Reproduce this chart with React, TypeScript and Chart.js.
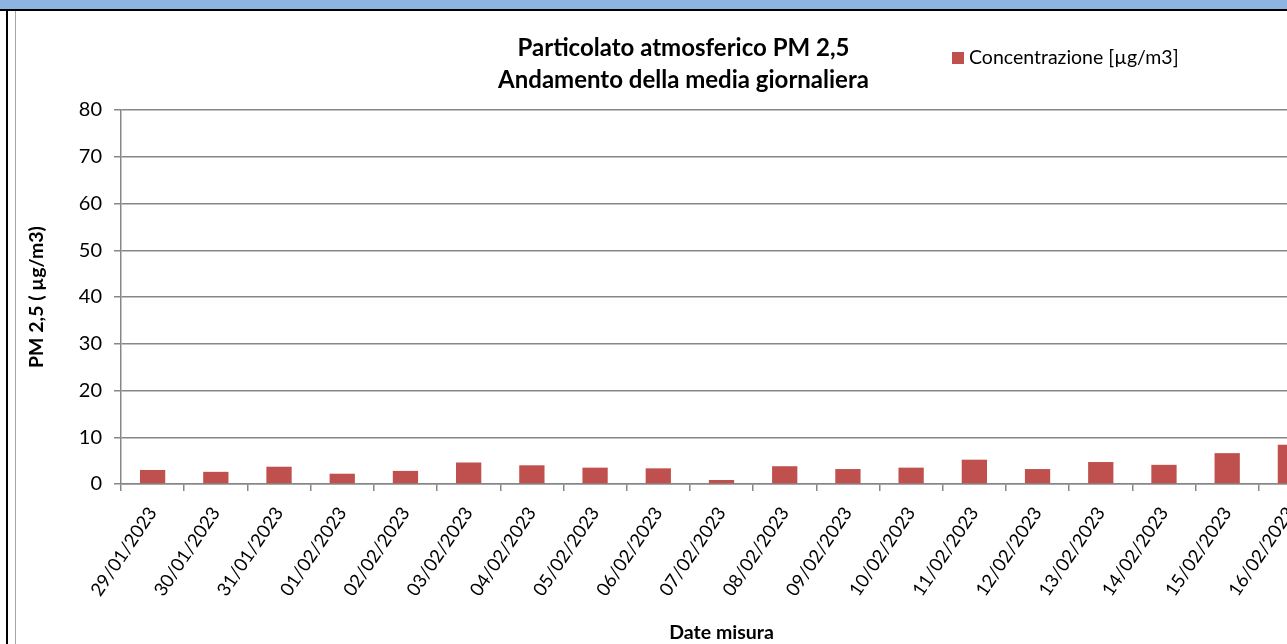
import { useEffect, useRef } from "react";
import { Chart, registerables } from "chart.js";

Chart.register(...registerables);

const categories = [
  "29/01/2023", "30/01/2023", "31/01/2023", "01/02/2023", "02/02/2023",
  "03/02/2023", "04/02/2023", "05/02/2023", "06/02/2023", "07/02/2023",
  "08/02/2023", "09/02/2023", "10/02/2023", "11/02/2023", "12/02/2023",
  "13/02/2023", "14/02/2023", "15/02/2023", "16/02/2023",
];
const concentrazione = [
  3.0, 2.6, 3.7, 2.2, 2.8, 4.6, 4.0, 3.5, 3.35, 0.85,
  3.8, 3.2, 3.5, 5.2, 3.2, 4.7, 4.1, 6.6, 8.4,
];
const seriesLabel = "Concentrazione [µg/m3]";
const titleLines = ["Particolato atmosferico PM 2,5", "Andamento della media giornaliera"];
const yTitle = "PM 2,5 ( µg/m3)";
const xTitle = "Date misura";
const yMin = 0;
const yMax = 80;
const yStep = 10;

const FONT = "Lato";
const GRID = "#878787";
const BAR = "#C0504D";

const overlay = {
  id: "overlay",
  afterDraw(chart: any) {
    const ctx = chart.ctx;
    ctx.save();
    ctx.fillStyle = "#000";
    ctx.font = `bold 24px ${FONT}`;
    ctx.textAlign = "center";
    ctx.textBaseline = "middle";
    titleLines.forEach((t, i) => ctx.fillText(t, 667.5, 37 + i * 32));
    const ds = chart.data.datasets[0];
    ctx.fillStyle = ds.backgroundColor;
    ctx.fillRect(936, 41, 12, 12);
    ctx.fillStyle = "#000";
    ctx.textAlign = "left";
    ctx.font = `19.5px ${FONT}`;
    ctx.fillText(ds.label, 953, 47);
    ctx.restore();
  },
};

export default function App() {
  const ref = useRef<HTMLCanvasElement>(null);
  useEffect(() => {
    if (!ref.current) return;
    const chart = new Chart(ref.current, {
      type: "bar",
      data: {
        labels: categories,
        datasets: [
          {
            label: seriesLabel,
            data: concentrazione,
            backgroundColor: BAR,
            barPercentage: 0.4,
            categoryPercentage: 1,
          },
        ],
      },
      options: {
        responsive: false,
        maintainAspectRatio: false,
        animation: false,
        layout: { padding: { top: 99, right: 24, left: 0, bottom: 0 } },
        plugins: {
          legend: { display: false },
          title: { display: false },
          tooltip: { enabled: false },
        },
        scales: {
          x: {
            offset: true,
            grid: { offset: true, drawOnChartArea: false, color: GRID, lineWidth: 1.5, tickLength: 7 },
            border: { color: GRID, width: 1.5 },
            ticks: {
              autoSkip: false,
              minRotation: 56,
              maxRotation: 56,
              padding: 12,
              color: "#000",
              font: { family: FONT, size: 18.5 },
            },
            title: {
              display: true,
              text: xTitle,
              color: "#000",
              font: { family: FONT, size: 19.5, weight: "bold" },
              padding: { top: 0, bottom: 7 },
            },
            afterFit: (s: any) => {
              s.height = 167;
            },
          },
          y: {
            min: yMin,
            max: yMax,
            ticks: {
              stepSize: yStep,
              padding: 12,
              color: "#000",
              font: { family: FONT, size: 20 },
            },
            grid: { color: GRID, lineWidth: 1.5, tickLength: 7 },
            border: { color: GRID, width: 1.5 },
            title: {
              display: true,
              text: yTitle,
              color: "#000",
              font: { family: FONT, size: 19.5, weight: "bold" },
              padding: { top: 9, bottom: 0 },
            },
            afterFit: (s: any) => {
              s.width = 105;
            },
          },
        },
      },
      plugins: [overlay],
    });
    return () => chart.destroy();
  }, []);

  return (
    <div
      style={{
        position: "fixed",
        left: 0,
        top: 0,
        width: 1287,
        height: 644,
        overflow: "hidden",
        background: "#fff",
      }}
    >
      <div style={{ position: "absolute", left: 0, top: 0, width: "100%", height: 9, background: "#8DB4E2" }} />
      <div style={{ position: "absolute", left: 0, top: 9, width: "100%", height: 2, background: "#000" }} />
      <div style={{ position: "absolute", left: 6, top: 9, width: 2, height: 640, background: "#000" }} />
      <div style={{ position: "absolute", left: 15, top: 11, width: 1, height: 640, background: "#A6A6A6" }} />
      <canvas
        ref={ref}
        width={1330}
        height={640}
        style={{ position: "absolute", left: 16, top: 11, width: 1330, height: 640 }}
      />
    </div>
  );
}
